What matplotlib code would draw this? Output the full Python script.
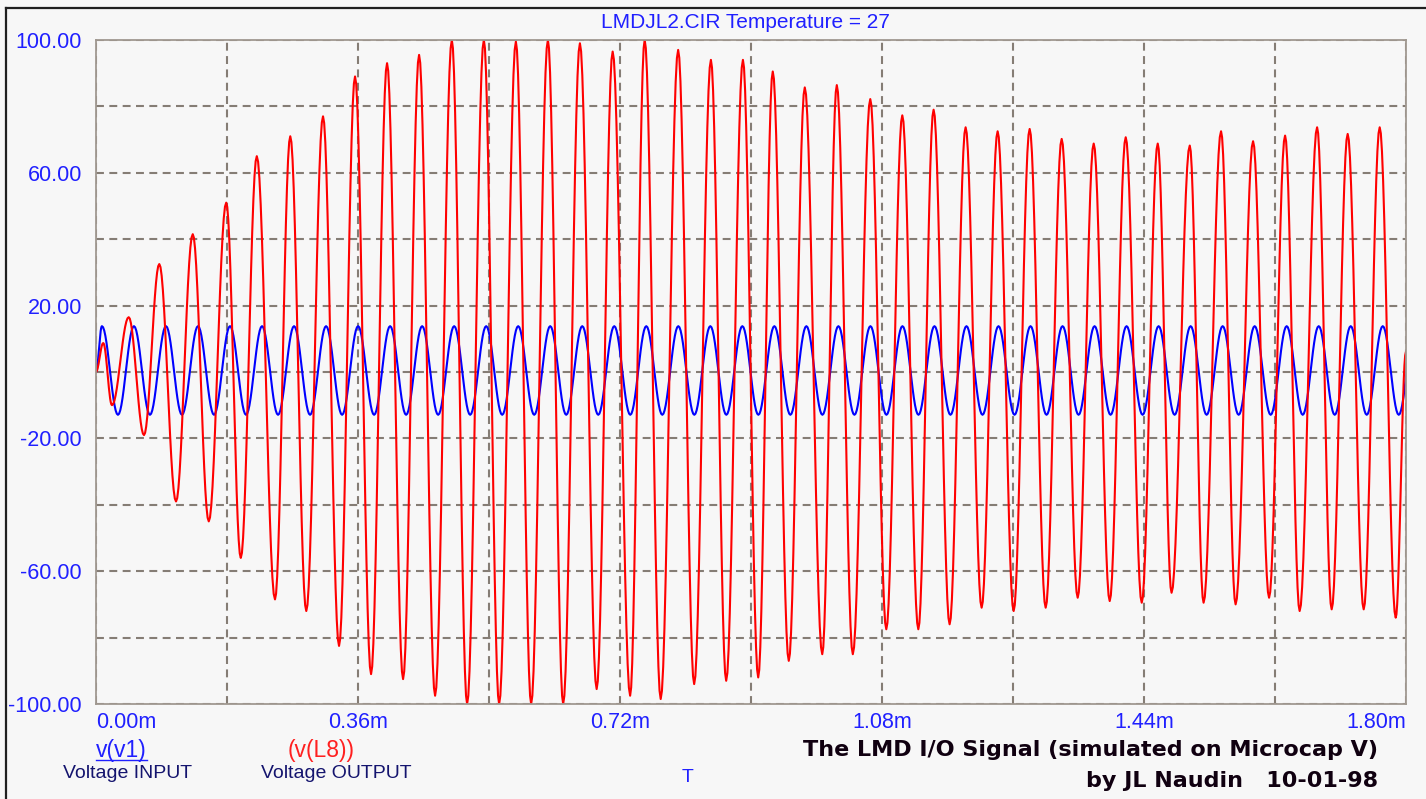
import numpy as np
import matplotlib.pyplot as plt
from matplotlib.lines import Line2D

# --- values (time in ms, volts) ---
red_peak_t = [0.010, 0.045, 0.087, 0.133, 0.179, 0.221, 0.267, 0.312, 0.356, 0.400,
              0.444, 0.489, 0.533, 0.577, 0.621, 0.665, 0.710, 0.754, 0.800, 0.845,
              0.889, 0.930, 0.974, 1.018, 1.064, 1.108, 1.151, 1.195, 1.239, 1.283,
              1.327, 1.371, 1.415, 1.459, 1.503, 1.546, 1.590, 1.634, 1.678, 1.720, 1.764]
red_peak_v = [8.7, 16.5, 32.5, 41.5, 51, 65, 71, 77, 89, 93,
              95.5, 100, 100, 99.5, 100, 99, 96.5, 100, 97, 94,
              94, 90.5, 85.7, 86.4, 82.2, 77.3, 79, 73.7, 72.5, 73.2,
              70.2, 68.8, 70.7, 68.8, 68.2, 72.5, 69.5, 71.2, 73.7, 71.7, 73.7]
red_trough_t = [0.022, 0.066, 0.110, 0.155, 0.199, 0.246, 0.289, 0.334, 0.378, 0.422,
                0.466, 0.510, 0.554, 0.598, 0.642, 0.688, 0.734, 0.776, 0.822, 0.866,
                0.910, 0.952, 0.998, 1.040, 1.086, 1.130, 1.173, 1.217, 1.261, 1.305,
                1.349, 1.393, 1.437, 1.478, 1.522, 1.566, 1.612, 1.654, 1.698, 1.742, 1.786]
red_trough_v = [-10, -19, -39, -45, -56, -68.5, -72, -82.5, -91, -92.5,
                -97.5, -100, -100, -100, -100, -95.5, -97.5, -98.5, -94, -93,
                -92, -87, -85, -85, -77.5, -77.5, -76, -71, -72, -71,
                -68, -69, -69.5, -66.5, -69.5, -70, -68, -72, -71.5, -71.5, -74]
red_start_v = 0.0
red_end_v = 6.0

blue_first_peak_t = 0.0082
blue_period = 0.0440
blue_peak_v = 13.8
blue_trough_v = -12.9

x_ticks = [0.0, 0.18, 0.36, 0.54, 0.72, 0.90, 1.08, 1.26, 1.44, 1.62, 1.80]
x_labels = ['0.00m', '', '0.36m', '', '0.72m', '', '1.08m', '', '1.44m', '', '1.80m']
y_ticks = [-100, -80, -60, -40, -20, 0, 20, 40, 60, 80, 100]
y_labels = ['-100.00', '', '-60.00', '', '-20.00', '', '20.00', '', '60.00', '', '100.00']


def trace(ts, vs, n=14):
    # half-cosine swing between consecutive extremes
    xs, ys = [], []
    for i in range(len(ts) - 1):
        s = np.linspace(0, 1, n, endpoint=False)
        xs.append(ts[i] + s * (ts[i + 1] - ts[i]))
        ys.append(vs[i] + (vs[i + 1] - vs[i]) * (1 - np.cos(np.pi * s)) / 2)
    xs.append([ts[-1]])
    ys.append([vs[-1]])
    return np.concatenate(xs), np.concatenate(ys)


red_t = [0.0]
red_v = [red_start_v]
for tp, vp, tt, vt in zip(red_peak_t, red_peak_v, red_trough_t, red_trough_v):
    red_t += [tp, tt]
    red_v += [vp, vt]
red_t.append(1.8)
red_v.append(red_end_v)

blue_t = [0.0]
blue_v = [0.0]
k = 0
while blue_first_peak_t + k * blue_period < 1.85:
    blue_t += [blue_first_peak_t + k * blue_period, blue_first_peak_t + (k + 0.5) * blue_period]
    blue_v += [blue_peak_v, blue_trough_v]
    k += 1

bg = '#f7f7f7'
fig = plt.figure(figsize=(14.26, 7.99), dpi=100, facecolor=bg)
ax = fig.add_axes([0.0673, 0.1189, 0.9186, 0.8311])
ax.set_facecolor(bg)

bx, by = trace(blue_t, blue_v)
rx, ry = trace(red_t, red_v)
ax.plot(bx, by, color='#0000ff', lw=1.5)
ax.plot(rx, ry, color='#ff0000', lw=1.5)

ax.set_xlim(0, 1.8)
ax.set_ylim(-100, 100)
ax.set_xticks(x_ticks)
ax.set_xticklabels(x_labels)
ax.set_yticks(y_ticks)
ax.set_yticklabels(y_labels)
ax.tick_params(axis='both', length=0, labelcolor='#2020ff', labelsize=15.5)
ax.tick_params(axis='x', pad=6)
ax.tick_params(axis='y', pad=10)
for lab in ax.get_xticklabels() + ax.get_yticklabels():
    lab.set_fontfamily('Liberation Sans')
ax.get_xticklabels()[0].set_ha('left')
ax.get_xticklabels()[-1].set_ha('right')

ax.set_axisbelow(True)
ax.grid(True, color='#857d75', lw=1.5, linestyle=(0, (3.8, 2.6)))
for sp in ax.spines.values():
    sp.set_color('#a09890')
    sp.set_linewidth(1.3)

# texts around the plot
W, H = 1426, 799
fig.text(745 / W, 1 - 22 / H, 'LMDJL2.CIR Temperature = 27', color='#2020ff',
         fontsize=15, family='Liberation Sans', ha='center', va='center')
fig.text(96 / W, 1 - 750 / H, 'v(v1)', color='#2020ff', fontsize=16.5,
         family='Liberation Sans', ha='left', va='center')
fig.add_artist(Line2D([96 / W, 147 / W], [1 - 760 / H, 1 - 760 / H], color='#2020ff', lw=1))
fig.text(321 / W, 1 - 750 / H, '(v(L8))', color='#ff2020', fontsize=16.5,
         family='Liberation Sans', ha='center', va='center')
fig.text(128 / W, 1 - 774 / H, 'Voltage INPUT', color='#14146e', fontsize=14,
         family='Liberation Sans', ha='center', va='center')
fig.text(336 / W, 1 - 774 / H, 'Voltage OUTPUT', color='#14146e', fontsize=14,
         family='Liberation Sans', ha='center', va='center')
fig.text(688 / W, 1 - 777 / H, 'T', color='#2020ff', fontsize=14,
         family='Liberation Sans', ha='center', va='center')
fig.text(1378 / W, 1 - 750 / H, 'The LMD I/O Signal (simulated on Microcap V)', color='#100010',
         fontsize=16, fontweight='bold', family='DejaVu Sans', ha='right', va='center')
fig.text(1378 / W, 1 - 781 / H, 'by JL Naudin   10-01-98', color='#100010',
         fontsize=16, fontweight='bold', family='DejaVu Sans', ha='right', va='center')

# window frame (top and left edges)
fig.add_artist(Line2D([6 / W, 1], [1 - 8 / H, 1 - 8 / H], color='#202020', lw=1.6))
fig.add_artist(Line2D([6 / W, 6 / W], [0, 1 - 8 / H], color='#202020', lw=1.6))

fig.savefig('out.png', dpi=100, facecolor=bg)
